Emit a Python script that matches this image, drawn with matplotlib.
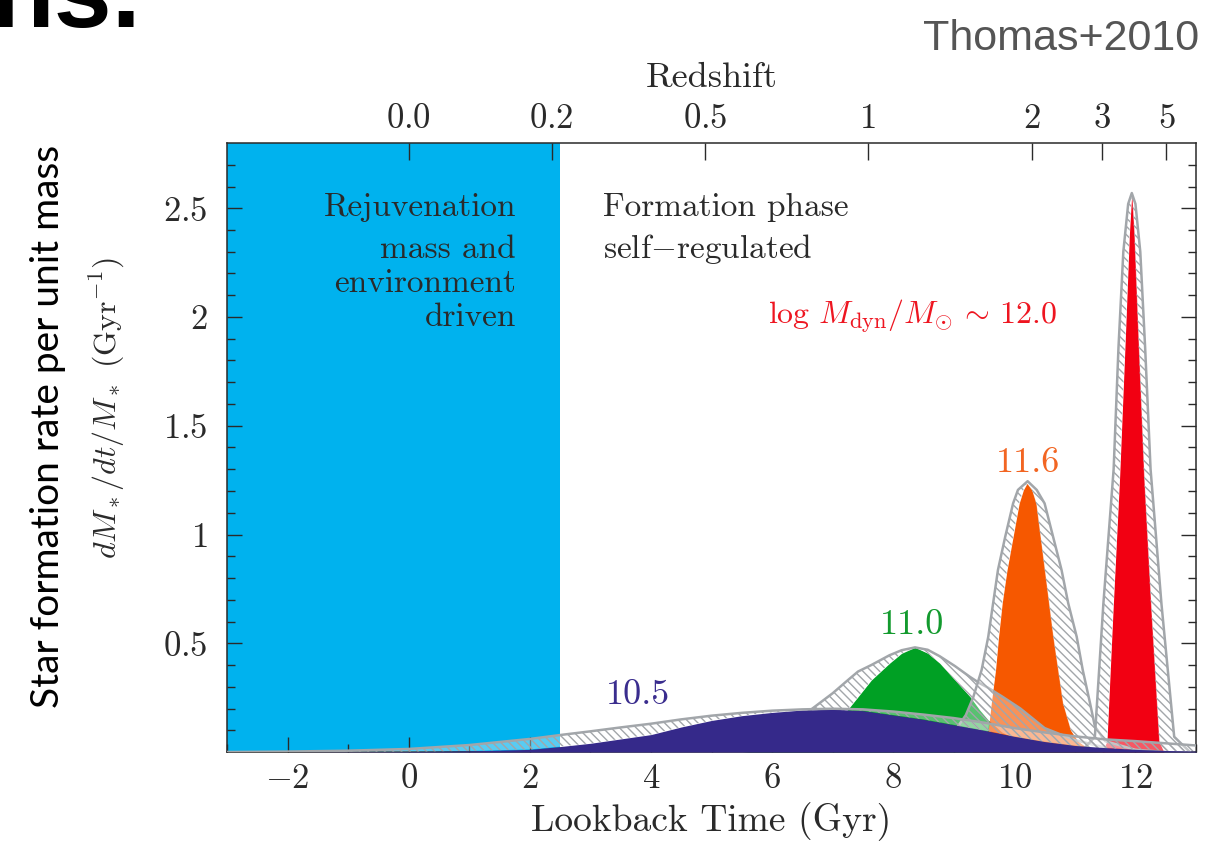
import numpy as np
import matplotlib
matplotlib.use('Agg')
import matplotlib.pyplot as plt

# ---------------- data ----------------
# Lookback-time ticks (bottom axis)
x_ticks = [-2, 0, 2, 4, 6, 8, 10, 12]
x_tick_labels = [r'$-2$', r'$0$', r'$2$', r'$4$', r'$6$', r'$8$', r'$10$', r'$12$']
y_ticks = [0.5, 1.0, 1.5, 2.0, 2.5]
y_tick_labels = [r'$0.5$', r'$1$', r'$1.5$', r'$2$', r'$2.5$']
# Redshift ticks (top axis) and their lookback times
z_labels = ['0.0', '0.2', '0.5', '1', '2', '3', '5']
z_lookback = [0.0, 2.36, 4.90, 7.58, 10.29, 11.45, 12.51]
rejuvenation_end = 2.5   # Gyr

# log Mdyn = 10.5 (purple)
purple_t = [-3, -2, -1, 0, 1, 2, 2.5, 3, 3.5, 4, 4.5, 5, 5.5, 6, 6.5, 7, 7.5,
            8, 8.5, 9, 9.5, 10, 10.5, 11, 11.5, 12, 12.5, 13]
purple_v = [0.0, 0.0, 0.001, 0.002, 0.005, 0.012, 0.025, 0.04, 0.06, 0.08, 0.115,
            0.145, 0.167, 0.182, 0.193, 0.197, 0.19, 0.17, 0.15, 0.125, 0.1, 0.072,
            0.048, 0.03, 0.02, 0.012, 0.007, 0.004]
purple_env = [0.0, 0.002, 0.006, 0.014, 0.032, 0.06, 0.078, 0.095, 0.113, 0.13, 0.15,
              0.167, 0.18, 0.19, 0.196, 0.199, 0.196, 0.186, 0.172, 0.156, 0.135, 0.11,
              0.09, 0.072, 0.058, 0.05, 0.04, 0.03]

# log Mdyn = 11.0 (green)
green_t = [5.5, 6.0, 6.5, 7.0, 7.25, 7.42, 7.64, 7.94, 8.14, 8.36, 8.57, 8.77, 9.02,
           9.27, 9.43, 9.57, 9.8, 10.1, 10.5, 11.0, 11.5]
green_v = [0.0, 0.01, 0.04, 0.12, 0.195, 0.254, 0.331, 0.408, 0.454, 0.481, 0.454,
           0.408, 0.331, 0.254, 0.193, 0.147, 0.09, 0.045, 0.015, 0.004, 0.0]
green_env = [0.02, 0.07, 0.165, 0.27, 0.33, 0.37, 0.40, 0.445, 0.468, 0.481, 0.47,
             0.44, 0.395, 0.345, 0.316, 0.295, 0.255, 0.2, 0.11, 0.055, 0.02]

# log Mdyn = 11.6 (orange)
orange_t = [9.3, 9.5, 9.57, 9.62, 9.69, 9.74, 9.80, 9.88, 9.98, 10.08, 10.15, 10.21,
            10.29, 10.36, 10.43, 10.50, 10.57, 10.64, 10.72, 10.80, 10.93, 11.05, 11.2, 11.5]
orange_v = [0.0, 0.05, 0.1, 0.225, 0.377, 0.53, 0.684, 0.837, 0.99, 1.143, 1.205, 1.235,
            1.205, 1.143, 0.99, 0.837, 0.684, 0.53, 0.377, 0.225, 0.1, 0.05, 0.02, 0.0]
orange_env_t = [8.0, 8.5, 8.85, 9.05, 9.2, 9.32, 9.46, 9.57, 9.65, 9.73, 9.85, 9.98, 10.06,
                10.22, 10.37, 10.50, 10.64, 10.78, 10.89, 11.03, 11.13, 11.25, 11.33, 11.5,
                12.0, 12.5]
orange_env_v = [0.0, 0.02, 0.065, 0.11, 0.17, 0.25, 0.377, 0.53, 0.684, 0.837, 0.99, 1.143,
                1.205, 1.245, 1.205, 1.143, 0.99, 0.837, 0.684, 0.53, 0.377, 0.225, 0.118,
                0.05, 0.01, 0.0]

# log Mdyn = 12.0 (red)
red_t = [11.45, 11.53, 11.63, 11.74, 11.84, 11.90, 11.94, 11.98, 12.04, 12.14, 12.26, 12.39, 12.47]
red_v = [0.0, 0.05, 0.65, 1.27, 1.95, 2.38, 2.57, 2.38, 1.95, 1.27, 0.65, 0.05, 0.0]
red_env_t = [11.1, 11.33, 11.47, 11.64, 11.72, 11.80, 11.88, 11.94, 12.00, 12.08, 12.16,
             12.25, 12.43, 12.64, 12.9]
red_env_v = [0.0, 0.07, 0.68, 1.30, 1.86, 2.30, 2.52, 2.57, 2.52, 2.30, 1.86, 1.30, 0.68, 0.07, 0.0]

mass_labels = ['10.5', '11.0', '11.6', '12.0']

# ---------------- style ----------------
plt.rcParams['font.family'] = ['cmr10', 'DejaVu Serif']
plt.rcParams['mathtext.fontset'] = 'cm'
plt.rcParams['axes.formatter.use_mathtext'] = True
plt.rcParams['axes.unicode_minus'] = False
plt.rcParams['hatch.linewidth'] = 1.0

BLUE = '#00B2EE'
PURPLE = '#35298A'
GREEN = '#00A024'
ORANGE = '#F65800'
RED = '#F20012'
HATCH_GRAY = '#A2A6AA'
AX_COL = '#2a2a2a'

fig = plt.figure(figsize=(12.12, 8.41), dpi=100)
ax = fig.add_axes([227/1212, 89/841, 969/1212, 609/841])
ax.set_xlim(-3, 13)
ax.set_ylim(0, 2.8)

# Rejuvenation region
ax.axvspan(-3, rejuvenation_end, color=BLUE, lw=0, zorder=0.5)

# colored star-formation histories
ax.fill_between(green_t, green_v, 0, color=GREEN, lw=0, zorder=2)
ax.fill_between(orange_t, orange_v, 0, color=ORANGE, lw=0, zorder=2.1)
ax.fill_between(red_t, red_v, 0, color=RED, lw=0, zorder=2.2)


def band(ct, cv, et, ev, z):
    xs = np.concatenate([np.asarray(et, float), np.asarray(ct, float)[::-1]])
    ys = np.concatenate([np.asarray(ev, float), np.asarray(cv, float)[::-1]])
    ax.fill(xs, ys, facecolor=(1, 1, 1, 0.35), edgecolor=HATCH_GRAY,
            hatch='\\\\\\\\', linewidth=0, zorder=z)
    ax.plot(et, ev, color=HATCH_GRAY, lw=1.8, zorder=z + 0.01)


band(green_t, green_v, green_t, green_env, 3.0)
band(orange_t, orange_v, orange_env_t, orange_env_v, 3.1)
band(red_t, red_v, red_env_t, red_env_v, 3.2)

ax.fill_between(purple_t, purple_v, 0, color=PURPLE, lw=0, zorder=4)
band(purple_t, purple_v, purple_t, purple_env, 4.5)

# ---------------- axes / ticks ----------------
ax.set_xticks(x_ticks, x_tick_labels)
ax.set_xticks(np.arange(-3, 14, 1), minor=True)
ax.set_yticks(y_ticks, y_tick_labels)
ax.set_yticks(np.arange(0.1, 2.8, 0.1), minor=True)
ax.tick_params(which='both', direction='in', right=True, top=False, color=AX_COL,
               width=1.0)
ax.tick_params(which='major', length=11, labelsize=25, colors=AX_COL)
ax.tick_params(which='minor', length=6)
ax.tick_params(axis='x', which='major', pad=8)
ax.tick_params(axis='y', which='major', pad=14)
for sp in ax.spines.values():
    sp.set_linewidth(1.1)
    sp.set_color(AX_COL)

ax2 = ax.twiny()
ax2.set_xlim(ax.get_xlim())
ax2.set_xticks(z_lookback, [f'${s}$' for s in z_labels])
ax2.xaxis.set_minor_locator(plt.NullLocator())
ax2.tick_params(axis='x', direction='in', length=12, width=1.0, color=AX_COL,
                labelsize=25, labelcolor=AX_COL, pad=6)
for sp in ax2.spines.values():
    sp.set_visible(False)

ax.set_xlabel('Lookback Time (Gyr)', fontsize=27, color=AX_COL, va='center')
ax.xaxis.set_label_coords(0.5, -0.115)
ax2.set_xlabel('Redshift', fontsize=26, color=AX_COL, va='center')
ax2.xaxis.set_label_coords(0.5, 1.107)
ax.set_ylabel(r'$dM_*/dt/M_*$ (Gyr$^{-1}$)', fontsize=23, color=AX_COL, va='center')
ax.yaxis.set_label_coords(-0.123, 0.565)

# ---------------- annotations ----------------
tkw = dict(fontsize=24, color=AX_COL, va='baseline', zorder=6)
ax.text(1.77, 2.464, 'Rejuvenation', ha='right', **tkw)
ax.text(1.77, 2.272, 'mass and', ha='right', **tkw)
ax.text(1.77, 2.115, 'environment', ha='right', **tkw)
ax.text(1.77, 1.96, 'driven', ha='right', **tkw)
ax.text(3.21, 2.464, 'Formation phase', ha='left', **tkw)
ax.text(3.21, 2.272, r'self$-$regulated', ha='left', **tkw)

ax.text(5.93, 1.97, r'$\log\,M_{\rm dyn}/M_{\odot}\,\sim\,' + mass_labels[3] + '$',
        fontsize=23, color='#EE1520', ha='left', va='baseline', zorder=6)
ax.text(10.22, 1.287, mass_labels[2], fontsize=26, color='#F26522', ha='center',
        va='baseline', zorder=6)
ax.text(8.31, 0.543, mass_labels[1], fontsize=26, color='#139A2E', ha='center',
        va='baseline', zorder=6)
ax.text(3.78, 0.221, mass_labels[0], fontsize=26, color='#3A2D8E', ha='center',
        va='baseline', zorder=6)

# slide decorations
fig.text(141/1212, 1 - 27/841, 'ns.', fontsize=75, fontweight='bold',
         family='Liberation Sans', ha='right', va='baseline', color='black')
fig.text(1199/1212, 1 - 50/841, 'Thomas+2010', fontsize=31, family='Liberation Sans',
         color='#555555', ha='right', va='baseline')
fig.text(48/1212, 1 - 426/841, 'Star formation rate per unit mass', fontsize=28,
         family='Lato', rotation=90, ha='center', va='center', color='black')

fig.savefig('out.png', dpi=100)
